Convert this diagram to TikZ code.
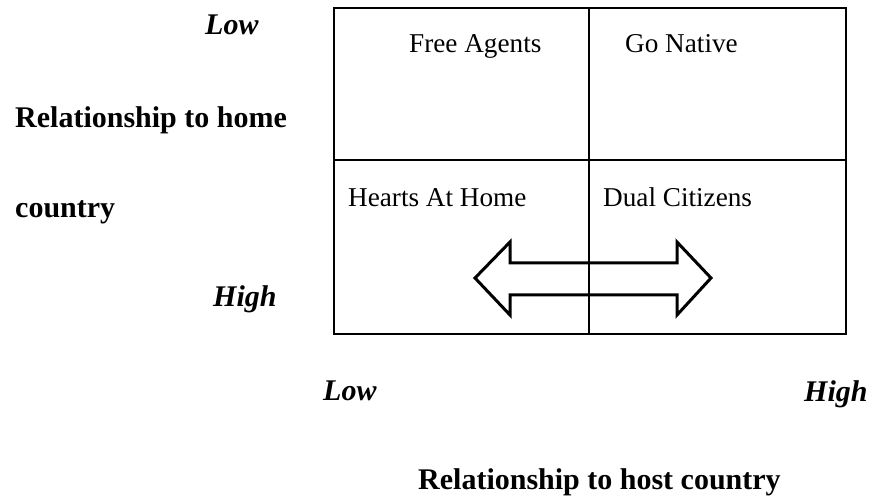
\documentclass[tikz,border=0pt]{standalone}
\usepackage{fontspec}
\setmainfont{Liberation Serif}
\begin{document}
\begin{tikzpicture}[x=1pt,y=-1pt,
  cell/.style={anchor=base west,inner sep=0pt,font=\fontsize{27.2}{32}\selectfont},
  axis/.style={anchor=base west,inner sep=0pt,font=\fontsize{30}{36}\selectfont\bfseries},
  level/.style={anchor=base west,inner sep=0pt,font=\fontsize{30}{36}\selectfont\bfseries\itshape}]
\useasboundingbox (0,0) rectangle (870,502);
\draw [line width=1.5pt] (334,8) rectangle (846,334);
\draw [line width=1.5pt] (589,8) -- (589,334);
\draw [line width=1.5pt] (334,160) -- (846,160);
\node [cell] (free) at (409,53) {Free Agents};
\node [cell] (native) at (625,53) {Go Native};
\node [cell] (hearts) at (348,207) {Hearts At Home};
\node [cell] (dual) at (603,207) {Dual Citizens};
\draw [line width=3pt,line join=miter] (475,278) -- (510,242) -- (510,263) -- (677,263) -- (677,242) -- (711,278) -- (677,315) -- (677,295) -- (510,295) -- (510,315) -- cycle;
\node [level] (homelow) at (205,35) {Low};
\node [axis] (home1) at (15,128) {Relationship to home};
\node [axis] (home2) at (15,218) {country};
\node [level] (homehigh) at (213,307) {High};
\node [level] (hostlow) at (323,401) {Low};
\node [level] (hosthigh) at (804,402) {High};
\node [axis] (host) at (418,489) {Relationship to host country};
\end{tikzpicture}
\end{document}
